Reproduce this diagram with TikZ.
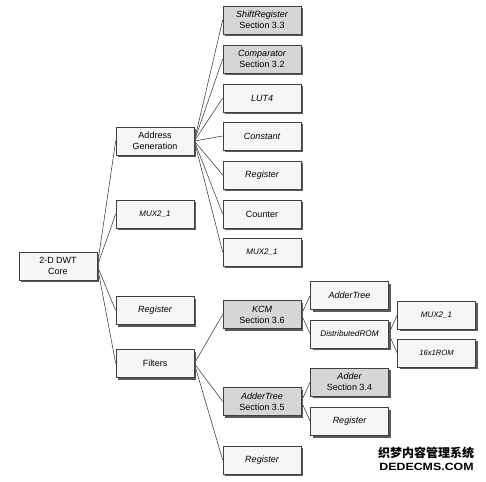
\documentclass[tikz,border=0pt]{standalone}
\usepackage{fontspec}
\setmainfont{Liberation Sans}
\newfontfamily\cjkfont{Noto Sans CJK SC}
\usetikzlibrary{shadows,backgrounds}
\definecolor{boxwhite}{HTML}{F6F6F6}
\definecolor{boxgray}{HTML}{D6D6D6}
\definecolor{shadowc}{HTML}{5A5A5A}
\definecolor{linec}{HTML}{3A3A3A}
\tikzset{
  blk/.style={draw=black!75, line width=0.6pt, fill=boxwhite,
    minimum width=78pt, minimum height=28pt, inner sep=1pt,
    align=center, font=\fontsize{9}{11}\selectfont,
    drop shadow={shadow xshift=2pt, shadow yshift=-2pt, fill=shadowc, opacity=1}},
  gblk/.style={blk, fill=boxgray},
  conn/.style={draw=linec, line width=0.55pt},
}
\begin{document}
\begin{tikzpicture}[x=1pt,y=-1pt]
\useasboundingbox (0,0) rectangle (486,481);
% level 0
\node[blk] (core) at (58,266) {2-D DWT\\Core};
% level 1
\node[blk] (addr) at (155,141) {Address\\Generation};
\node[blk] (mux1) at (155,214) {\fontsize{8}{10}\selectfont\itshape MUX2\_1};
\node[blk] (reg1) at (155,310.5) {\itshape Register};
\node[blk] (filt) at (155,363.5) {Filters};
% level 2 (address generation)
\node[gblk] (shift) at (262,20) {\itshape ShiftRegister\\Section 3.3};
\node[gblk] (comp) at (262,59) {\itshape Comparator\\Section 3.2};
\node[blk] (lut) at (262,98) {\itshape LUT4};
\node[blk] (const) at (262,136) {\itshape Constant};
\node[blk] (reg2) at (262,175) {\itshape Register};
\node[blk] (count) at (262,214) {Counter};
\node[blk] (mux2) at (262,252) {\fontsize{8}{10}\selectfont\itshape MUX2\_1};
% level 2 (filters)
\node[gblk] (kcm) at (262,314.5) {\itshape KCM\\Section 3.6};
\node[gblk] (atree) at (262,401.5) {\itshape AdderTree\\Section 3.5};
\node[blk] (reg3) at (262,460) {\itshape Register};
% level 3
\node[blk] (atree2) at (349.5,295.5) {\itshape AdderTree};
\node[blk] (drom) at (349.5,334) {\fontsize{8.2}{10}\selectfont\itshape DistributedROM};
\node[gblk] (adder) at (349.5,382) {\itshape Adder\\Section 3.4};
\node[blk] (reg4) at (349.5,421.5) {\itshape Register};
% level 4
\node[blk] (mux3) at (436.5,315) {\fontsize{8}{10}\selectfont\itshape MUX2\_1};
\node[blk] (rom) at (436.5,353) {\fontsize{7.6}{10}\selectfont\itshape 16x1ROM};
% watermark
\node[inner sep=0pt, font=\cjkfont\bfseries\fontsize{12}{12}\selectfont] (wm1) at (426,453) {织梦内容管理系统};
\node[inner sep=0pt, xscale=1.18, font=\bfseries\fontsize{10.5}{10.5}\selectfont] (wm2) at (426.5,466.5) {DEDECMS.COM};
\begin{scope}[on background layer]
\foreach \c in {addr,mux1,reg1,filt} \draw[conn] (core.east) -- (\c.west);
\foreach \c in {shift,comp,lut,const,reg2,count,mux2} \draw[conn] (addr.east) -- (\c.west);
\foreach \c in {kcm,atree,reg3} \draw[conn] (filt.east) -- (\c.west);
\foreach \c in {atree2,drom} \draw[conn] (kcm.east) -- (\c.west);
\foreach \c in {adder,reg4} \draw[conn] (atree.east) -- (\c.west);
\foreach \c in {mux3,rom} \draw[conn] (drom.east) -- (\c.west);
\end{scope}
\end{tikzpicture}
\end{document}
